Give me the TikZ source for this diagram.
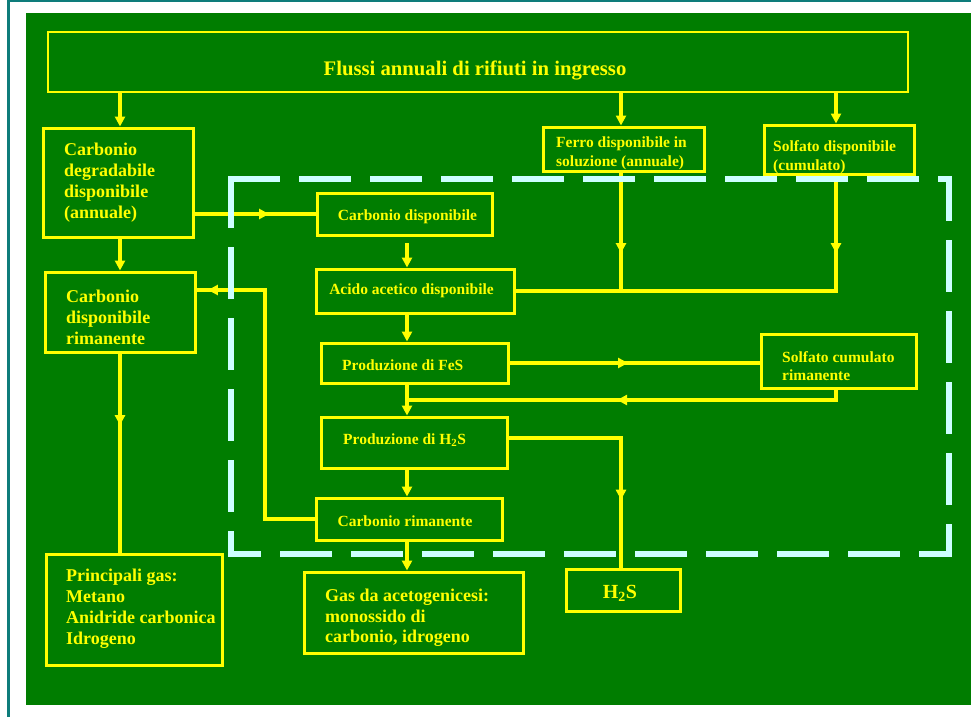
\documentclass[tikz,border=0pt]{standalone}
\usepackage{fontspec}
\setmainfont{Liberation Serif}
\usetikzlibrary{arrows.meta,decorations.markings}
\definecolor{bg}{HTML}{007D00}
\definecolor{ylw}{HTML}{FFFF00}
\definecolor{tealc}{HTML}{0E7C7B}
\definecolor{cyanl}{HTML}{CCFFFF}
\begin{document}
\begin{tikzpicture}[x=1pt,y=-1pt,
  box/.style={draw=ylw, line width=3pt, inner sep=0pt},
  txt/.style={text=ylw, font=\bfseries\fontsize{15.5}{18.5}\selectfont, inner sep=0pt, align=left},
  big/.style={font=\bfseries\fontsize{18}{21}\selectfont},
  conn/.style={draw=ylw, line width=4pt},
  tip/.style={-{Triangle[length=10pt,width=10pt]}},
  marr/.style={postaction={decorate},decoration={markings,mark=at position #1 with {\arrow{Triangle[length=10pt,width=10pt]}}}},
  dsh/.style={draw=cyanl, line width=5.5pt, line cap=rect, dash pattern=on 46pt off 25pt}
]
% background
\fill[white] (0,0) rectangle (971,717);
\fill[tealc] (7,0) rectangle (10,717);
\fill[tealc] (7,0) rectangle (971,2);
\fill[bg] (26,13) rectangle (971,705);
\useasboundingbox (0,0) rectangle (971,717);

% boxes
\node[box, line width=2.5pt, minimum width=860pt, minimum height=60pt] (T) at (478,62) {};
\node[txt, font=\bfseries\fontsize{20.7}{24}\selectfont] (Tt) at (475,70) {Flussi annuali di rifiuti in ingresso};

\node[box, minimum width=150pt, minimum height=109pt] (A) at (118,182.5) {};
\node[txt, big, anchor=west] (At) at (64,183) {Carbonio\\degradabile\\disponibile\\(annuale)};

\node[box, minimum width=150pt, minimum height=80pt] (B) at (120,312) {};
\node[txt, big, anchor=west] (Bt) at (66,317) {Carbonio\\disponibile\\rimanente};

\node[box, minimum width=161pt, minimum height=44pt] (F) at (623.5,149) {};
\node[txt, anchor=west, font=\bfseries\fontsize{15.5}{19}\selectfont] (Ft) at (556,153) {Ferro disponibile in\\soluzione (annuale)};

\node[box, minimum width=150pt, minimum height=49pt] (S) at (839,149.5) {};
\node[txt, anchor=west] (St) at (773,157) {Solfato disponibile\\(cumulato)};

\node[box, minimum width=175pt, minimum height=42pt] (CD) at (404.5,214) {};
\node[txt] (CDt) at (407.5,217) {Carbonio disponibile};

\node[box, minimum width=198pt, minimum height=44pt] (Ac) at (415,291) {};
\node[txt] (Act) at (411.5,291) {Acido acetico disponibile};

\node[box, minimum width=187pt, minimum height=40pt] (FeS) at (414.5,363) {};
\node[txt, anchor=west] (FeSt) at (342,365) {Produzione di FeS};

\node[box, minimum width=155pt, minimum height=54pt] (SC) at (838.5,361) {};
\node[txt, anchor=west] (SCt) at (782,366) {Solfato cumulato\\rimanente};

\node[box, minimum width=186pt, minimum height=51pt] (HP) at (414,442.5) {};
\node[txt, anchor=west] (HPt) at (343,440) {Produzione di H\textsubscript{2}S};

\node[box, minimum width=186pt, minimum height=42pt] (CR) at (409,519) {};
\node[txt] (CRt) at (405,521) {Carbonio rimanente};

\node[box, minimum width=176pt, minimum height=111pt] (P) at (134,609.5) {};
\node[txt, big, anchor=west] (Pt) at (66,609) {Principali gas:\\Metano\\Anidride carbonica\\Idrogeno};

\node[box, minimum width=219pt, minimum height=81pt] (G) at (413.5,612.5) {};
\node[txt, anchor=west, font=\bfseries\fontsize{18}{20.5}\selectfont] (Gt) at (325,618) {Gas da acetogenicesi:\\monossido di\\carbonio, idrogeno};

\node[box, minimum width=114pt, minimum height=42pt] (Hb) at (623,590) {};
\node[txt, font=\bfseries\fontsize{20}{24}\selectfont] (Hbt) at (620,593) {H\textsubscript{2}S};

% helper coordinates
\coordinate (cx) at (120,0);
\coordinate (ax) at (407,0);
\coordinate (fx) at (621,0);
\coordinate (sx) at (836,0);
\coordinate (c1) at (407,243);
\coordinate (j2) at (407,400);
\coordinate (k1) at (265,290);
\coordinate (h1) at (621,438);

% connectors
\draw[conn,tip] (cx |- T.south) -- (cx |- A.north);
\draw[conn,tip] (cx |- A.south) -- (cx |- B.north);
\draw[conn,marr=0.36] (cx |- B.south) -- (cx |- P.north);
\draw[conn,tip] (fx |- T.south) -- (fx |- F.north);
\draw[conn,tip] (sx |- T.south) -- (sx |- S.north);
\draw[conn,marr=0.616] (A.east |- CD.west) -- (CD.west);
\draw[conn,tip] (c1) -- (ax |- Ac.north);
\draw[conn,marr=0.68] (fx |- F.south) -- (fx |- Ac.east);
\draw[conn,marr=0.178] (sx |- S.south) -- (sx |- Ac.east) -- (Ac.east);
\draw[conn,tip] (ax |- Ac.south) -- (ax |- FeS.north);
\draw[conn,marr=0.474] (FeS.east) -- (FeS.east -| SC.west);
\draw[conn,marr=0.522] (sx |- SC.south) -- (sx |- j2) -- (j2);
\draw[conn,tip] (ax |- FeS.south) -- (ax |- HP.north);
\draw[conn,marr=0.72] (HP.east |- h1) -- (h1) -- (fx |- Hb.north);
\draw[conn,tip] (ax |- HP.south) -- (ax |- CR.north);
\draw[conn,marr=0.967] (CR.west) -| (k1) -- (k1 -| B.east);
\draw[conn,tip] (ax |- CR.south) -- (ax |- G.north);

% dashed boundary
\coordinate (d1) at (231,179);
\coordinate (d2) at (949,179);
\coordinate (d3) at (949,554);
\coordinate (d4) at (231,554);
\draw[dsh] (d1) -- (d2);
\draw[dsh, dash phase=7pt] (d2) -- (d3);
\draw[dsh, dash phase=19pt] (d4) -- (d3);
\draw[dsh] (d1) -- (d4);
\end{tikzpicture}
\end{document}
